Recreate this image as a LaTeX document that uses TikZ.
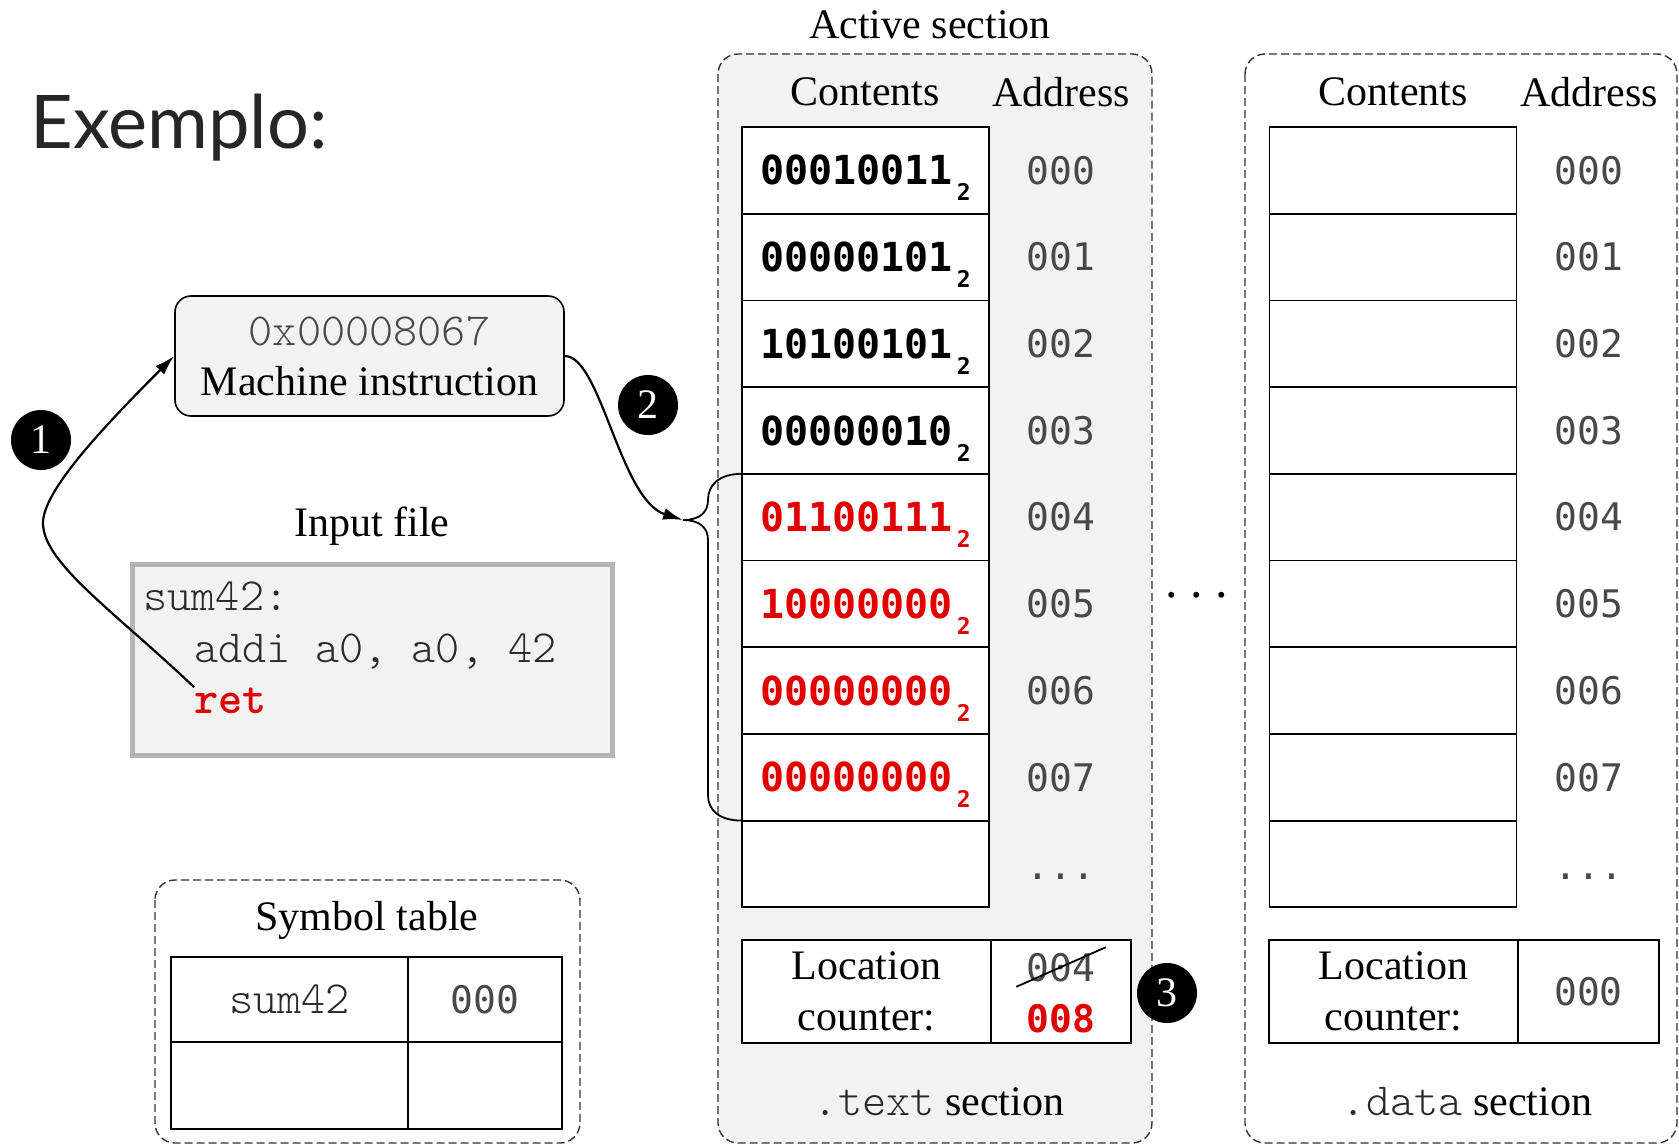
\documentclass[tikz,border=0pt]{standalone}
\usepackage{fontspec}
\setmainfont{Liberation Serif}
\setmonofont{lmmonolt10-regular}[Extension=.otf, BoldFont=lmmonolt10-bold]
\newfontfamily\titlefont{Lato}
\newfontfamily\binfont{DejaVu Sans Mono}
\usetikzlibrary{positioning, calc, arrows.meta}

\definecolor{sectgray}{HTML}{F2F2F2}
\definecolor{framegray}{HTML}{B5B5B5}
\definecolor{hotred}{HTML}{E00000}
\definecolor{addrgray}{HTML}{484848}
\definecolor{codegray}{HTML}{2A2A2A}
\definecolor{titlegray}{HTML}{262626}

\newcommand{\binval}[1]{#1\raisebox{-8pt}[0pt][0pt]{\fontsize{11.5}{11.5}\selectfont\,2}}

\tikzset{
	txt/.style={font=\fontsize{21}{25.5}\selectfont, inner sep=0pt},
	code/.style={font=\ttfamily\fontsize{23}{23}\selectfont, text=codegray, inner sep=0pt},
	cell/.style={draw, fill=white, line width=0.9pt, outer sep=0pt, minimum width=123.5pt, minimum height=43.35pt, inner sep=0pt, font=\binfont\bfseries\fontsize{20}{20}\selectfont},
	addr/.style={font=\binfont\fontsize{19}{19}\selectfont, text=addrgray, inner sep=0pt},
	section/.style={draw=black!80, dash pattern=on 4pt off 2pt, line width=0.7pt, rounded corners=10pt},
	stepnum/.style={circle, fill=black, text=white, minimum size=30pt, inner sep=0pt, font=\fontsize{21}{21}\selectfont},
	flow/.style={line width=1.1pt, -{Latex[length=10pt, width=6pt]}},
}

\begin{document}
\begin{tikzpicture}[x=0.5pt, y=-0.5pt]
	\useasboundingbox (0, 0) rectangle (1679, 1146);
	\node[anchor=base west, inner sep=0pt, font=\titlefont\fontsize{37}{37}\selectfont, text=titlegray] (title) at (30, 148) {Exemplo:};

	\draw[section, fill=sectgray] (718, 54) rectangle (1152, 1143);
	\draw[section] (1245, 54) rectangle (1677, 1143);
	\draw[section] (155, 880) rectangle (580, 1143);

	\node[txt] (acttitle) at (930, 25) {Active section};
	\node[txt] (acthead) at (865, 92) {Contents};
	\node[txt] (actaddr) at (1061, 92) {Address};
	\node[txt] (dathead) at (1393, 92) {Contents};
	\node[txt] (dataddr) at (1589, 92) {Address};

	\foreach \val/\col [count=\k from 0] in {00010011/black, 00000101/black, 10100101/black, 00000010/black, 01100111/hotred, 10000000/hotred, 00000000/hotred, 00000000/hotred} {
		\node[cell, text=\col] (t\k) at (865.5, 170.35+86.7*\k) {\binval{\val}};
		\node[addr] (ta\k) at (1061, 170.35+86.7*\k) {00\k};
		\node[addr] (da\k) at (1589, 170.35+86.7*\k) {00\k};
	}
	\node[cell] (t8) at (865.5, 863.95) {};
	\node[addr, anchor=base] (ta8) at (1061, 879) {...};
	\foreach \k in {0,...,8}
		\node[cell] (d\k) at (1393, 170.35+86.7*\k) {};
	\node[addr, anchor=base] (da8) at (1589, 879) {...};

	\node[cell, font=\fontsize{21}{25.5}\selectfont, align=center, minimum width=124.5pt, minimum height=51.5pt] (tloc) at (866.5, 991.5) {Location\\counter:};
	\node[cell, minimum width=70pt, minimum height=51.5pt, right=0pt of tloc] (tlocval) {};
	\node[addr] (oldloc) at (1061, 968) {004};
	\node[addr, font=\binfont\bfseries\fontsize{19}{19}\selectfont, text=hotred] (newloc) at (1061, 1019) {008};
	\draw[line width=0.9pt] ($(oldloc.south west)+(-10, 4)$) -- ($(oldloc.north east)+(10, -6)$);
	\node[stepnum] (n3) at (1167, 993) {3};
	\node[txt] (tname) at (939, 1102) {{\ttfamily\fontsize{23}{23}\selectfont\color{codegray}.text} section};

	\node[cell, font=\fontsize{21}{25.5}\selectfont, align=center, minimum width=124.5pt, minimum height=51.5pt] (dloc) at (1393.5, 991.5) {Location\\counter:};
	\node[cell, addr, minimum width=70.5pt, minimum height=51.5pt, right=0pt of dloc] (dlocval) {000};
	\node[txt] (dname) at (1467, 1102) {{\ttfamily\fontsize{23}{23}\selectfont\color{codegray}.data} section};

	\node[font=\fontsize{25}{25}\selectfont, anchor=base, inner sep=0pt] (gap) at (1197, 597) {.\ .\ .};

	\node[draw, fill=sectgray, rounded corners=8pt, line width=0.8pt, minimum width=194.5pt, minimum height=60pt, align=center, font=\fontsize{21}{25}\selectfont] (minstr) at (369.5, 356) {{\ttfamily\fontsize{23}{23}\selectfont\color{addrgray}0x00008067}\\Machine instruction};

	\node[txt] (inlabel) at (372, 526) {Input file};
	\node[draw=framegray, line width=2.5pt, fill=sectgray, minimum width=240pt, minimum height=95.5pt, inner sep=0pt] (inbox) at (372.5, 660) {};
	\node[code, anchor=base west] (code1) at (143, 610) {sum42:};
	\node[code, anchor=base west] (code2) at (194, 662) {addi a0, a0, 42};
	\node[code, anchor=base west, text=hotred, font=\ttfamily\bfseries\fontsize{23}{23}\selectfont] (ret) at (194, 713) {ret};

	\node[stepnum] (n1) at (41, 440) {1};
	\node[stepnum] (n2) at (648, 405) {2};

	\coordinate (bend) at (43, 523);
	\coordinate (bracetip) at (683, 520);
	\draw[flow] (ret.north west) .. controls +(-80, -76) and +(0, 40) .. (bend) .. controls +(0, -30) and +(-80, 80) .. (minstr.west);
	\draw[flow] (minstr.east) .. controls +(36, 0) and +(-63, -20) .. (bracetip);
	\draw[line width=0.9pt] (t4.north west) .. controls +(-23, 0) and +(0, -15) .. (708, 500) .. controls +(0, 12) and +(17, 0) .. (bracetip) .. controls +(17, 0) and +(0, -12) .. (708, 540) -- (708, 795) .. controls +(0, 15) and +(-23, 0) .. (t7.south west);

	\node[txt] (symtitle) at (367, 920) {Symbol table};
	\node[cell, code, minimum width=118.5pt, minimum height=42.5pt] (sym) at (289.5, 999.5) {sum42};
	\node[cell, addr, minimum width=77pt, minimum height=42.5pt, right=0pt of sym] (symaddr) {000};
	\node[cell, minimum width=118.5pt, minimum height=43.5pt, below=0pt of sym] (symempty) {};
	\node[cell, minimum width=77pt, minimum height=43.5pt, below=0pt of symaddr] (symaddrempty) {};
\end{tikzpicture}
\end{document}
